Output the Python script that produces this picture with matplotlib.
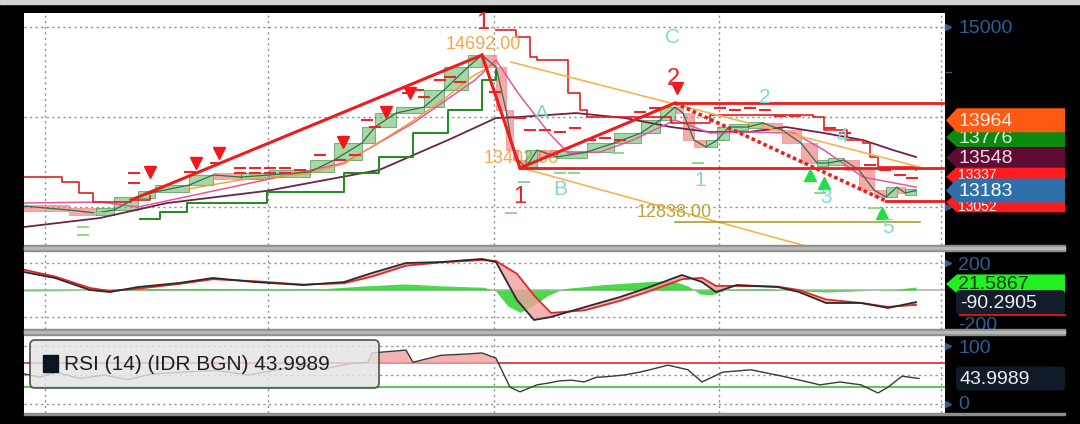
import matplotlib
matplotlib.use("Agg")
import matplotlib.pyplot as plt
from matplotlib import font_manager
from matplotlib.patches import Polygon, Rectangle, FancyBboxPatch
import numpy as np

# ---- price panel data (x = bar index, value = IDR) ----
PRICE_D = [0, 11.25, 18, 22.5, 28.5, 32.75, 41.25, 47.25, 54.25, 61.25,
           71.5, 77.5, 84.5, 87.75, 93, 100, 105, 111, 114.5, 118,
           120.5, 122.25, 123.5, 125.5, 128.25, 133.25, 140.75, 147.5, 154.25, 159,
           162.75, 164.75, 167.5, 170.5, 173.25, 176.25, 181, 184.75, 189.5, 194.25,
           198.25, 201, 205, 208.75, 212.5, 215.5, 218.25, 220.25, 223]
PRICE_V = [13010, 12967, 12933, 12967, 13111, 13167, 13244, 13356, 13333, 13356,
           13389, 13522, 13711, 13889, 14044, 14111, 14300, 14556, 14689, 14556,
           14078, 13633, 13522, 13440, 13633, 13556, 13611, 13711, 13822, 13967,
           14111, 14044, 13744, 13667, 13744, 13889, 13889, 13933, 13856, 13711,
           13489, 13489, 13522, 13411, 13189, 13111, 13222, 13156, 13183]

MAROON_D = [0, 19, 35.75, 60.75, 88.75, 106, 118, 123.5, 138, 150.25,
            161.75, 171.5, 181, 190.5, 200, 209.75, 217.25, 223]
MAROON_V = [12778, 12878, 13044, 13180, 13411, 13744, 13989, 14000, 14044, 13989,
            13889, 13833, 13833, 13889, 13822, 13744, 13633, 13556]

PINK_D = [0, 19, 28.5, 54.25, 80, 97.25, 112.75, 118, 123.5, 131.25,
          136, 144, 152.25, 162.75, 171.5, 181, 192.5, 200, 209.75, 223]
PINK_V = [13044, 13056, 13000, 13244, 13489, 13933, 14411, 14633, 14267, 13822,
          13600, 13611, 13744, 13967, 13822, 13833, 13822, 13633, 13333, 13222]

ORANGE_D = [41, 54, 71, 80, 88, 97, 105, 112, 118]
ORANGE_V = [13200, 13300, 13370, 13480, 13700, 13950, 14200, 14450, 14600]

GREEN_D = [29, 34, 40.75, 60.75, 80, 88.75, 97.25, 106, 114.5, 118]
GREEN_V = [12867, 12944, 13044, 13167, 13378, 13556, 13822, 14078, 14411, 14522]

BAND_A_D = [0, 9.5, 13.75, 17.25, 26.75, 31.5]
BAND_A_V = [13333, 13278, 13156, 13056, 13078, 13122]
BAND_B_D = [118, 123, 126.5, 128.25, 136, 139, 140.75, 161.75, 171.5, 197.25,
            200, 205.75, 209.75, 211.5, 213.5, 223]
BAND_B_V = [14967, 14889, 14667, 14633, 14267, 14078, 14000, 13933, 14022, 14000,
            13856, 13744, 13711, 13556, 13444, 13411]

RED_DASH_D = [27.5, 27.5, 41.5, 48, 54, 54, 57.75, 57.75, 61.5, 61.5,
              65.25, 65.25, 69, 74, 79, 82.75, 85.75, 87.75, 96, 98.5,
              100, 104, 106.5, 109, 117.75, 124, 126.5, 130.25, 134, 137.75,
              141.5, 145.25, 149, 154, 157.75, 174, 177.75, 181.5, 185.25, 189,
              192.75, 201.5, 205.25, 211.5, 215.25, 219, 222]
RED_DASH_V = [13378, 13267, 13389, 13489, 13433, 13378, 13433, 13378, 13433, 13378,
              13433, 13378, 13411, 13578, 13522, 13578, 13967, 13889, 14267, 14300,
              14222, 14411, 14444, 14389, 14278, 13989, 13856, 13856, 13833, 13878,
              13744, 13767, 13744, 14056, 14100, 14100, 14078, 14100, 14078, 14011,
              14011, 13878, 13822, 13467, 13411, 13356, 13322]
GREEN_DASH_D = [14.75, 14.75, 19, 121.75, 125, 134, 137.5, 148.5, 168.5, 199, 212.5]
GREEN_DASH_V = [12778, 12689, 12933, 12933, 13278, 13378, 13378, 13600, 13489, 13156, 12989]

SELL_D = [31.5, 43, 48.75, 79.75, 90.5, 96.5, 163.25]
SELL_V = [13389, 13489, 13600, 13722, 14056, 14267, 14322]
BUY_D = [196.5, 200, 214.5]
BUY_V = [13356, 13267, 12933]

# wave / trend lines: (d0, v0, d1, v1)
TREND_SOLID = [(26.75, 13078, 114.5, 14689), (114.5, 14689, 124, 13433), (124, 13433, 162.75, 14156)]
TREND_DOTTED = (162.75, 14156, 215.5, 13067)
LEVELS = [(162.75, 14156), (124, 13433), (215.5, 13067)]
FAN_UPPER = (121.75, 14611, 224, 13444)
FAN_LOWER = (124.5, 13433, 196.25, 12556)
TARGET = (162.75, 224, 12838)

WAVE_LABELS = [("1", 114.75, 15040, "#e3262a"), ("1", 124, 13110, "#e3262a"), ("2", 162.25, 14420, "#e3262a")]
ELLIOTT_LABELS = [("C", 162, 14880), ("A", 129.5, 14040), ("B", 134, 13190), ("1", 169, 13300),
                  ("2", 185.25, 14220), ("3", 200.5, 13110), ("4", 204.5, 13780), ("5", 216, 12770)]
PRICE_NOTES = [("14692.00", 114.75, 14811), ("13402.00", 115, 13544), ("12838.00", 162.5, 12944)]

MAIN_LAST = [13052, 13337, 13548, 13776, 13964, 13183]
MAIN_LAST_BG = ["#ff1c1c", "#ff1c1c", "#5e0c36", "#0b8a12", "#ff5a14", "#3070aa"]
MAIN_LAST_FG = ["#ffffff", "#ffffff", "#f0d8e4", "#d8f5d8", "#fff0e6", "#ffffff"]

# ---- MACD panel ----
MACD_D = [0, 7.75, 16.5, 21.5, 28.5, 38.75, 47.25, 57.75, 69.75, 80,
          87, 95.5, 104.25, 114.5, 118, 123.25, 127.5, 131.75, 140.25, 149,
          155.75, 164.5, 169.5, 173, 178.25, 188.5, 193.75, 200.5, 209.25, 216, 223]
MACD_V = [133, 89, 0, -15, 22, 52, 89, 59, 37, 59,
          126, 200, 207, 230, 207, -74, -222, -200, -126, -52,
          15, 111, 59, -15, 37, 22, -15, -96, -96, -133, -90]
SIGNAL_V = [150, 100, 15, -8, 10, 45, 80, 65, 40, 50,
            100, 180, 205, 222, 215, 120, -40, -170, -150, -80,
            -15, 80, 90, 30, 30, 25, 0, -70, -96, -125, -110]
HIST_D = [0, 10, 20, 30, 45, 60, 75, 85, 95, 105, 115, 118, 121, 124, 127, 131,
          135, 145, 155, 162, 166, 169, 172, 176, 185, 192, 200, 206, 212, 218, 223]
HIST_V = [-8, -5, 5, 10, 12, 8, 10, 30, 45, 30, 20, -10, -120, -165, -120, -40,
          10, 40, 60, 70, 30, -30, -35, 5, 10, -5, -15, -10, 0, 5, 22]

# ---- RSI panel ----
RSI_D = [0, 4, 8, 14, 20, 26, 32, 40, 48, 56, 64, 70, 76, 82, 86,
         87, 95.5, 97.25, 104.25, 110, 114.5, 118, 121.5, 124, 128.25, 131, 134,
         137, 140, 143, 145.5, 150, 154, 157, 161, 166, 169.5, 174.75, 181.75,
         190.25, 199, 204, 209.25, 213.5, 216, 219.5, 223.75]
RSI_V = [52, 46, 55, 44, 50, 42, 52, 55, 58, 50, 60, 66, 62, 70, 72,
         88, 93, 72, 84, 86, 88, 79, 29, 21, 33, 36, 40,
         41, 38, 46, 47, 50, 55, 60, 67, 59, 38, 55, 59,
         47, 33, 38, 33, 19, 29, 48, 44]

VGRID = [5.25, 61, 117.5, 173.75, 229.25]

W, H = 1080, 424
names = {f.name for f in font_manager.fontManager.ttflist}
FONT = "Liberation Sans Narrow" if "Liberation Sans Narrow" in names else "Liberation Sans"
plt.rcParams["font.family"] = [FONT, "DejaVu Sans"]

fig = plt.figure(figsize=(W / 100, H / 100), dpi=100, facecolor="black")


def px_axes(x0, y0, x1, y1, z=1):
    a = fig.add_axes([x0 / W, 1 - y1 / H, (x1 - x0) / W, (y1 - y0) / H], zorder=z)
    a.set_facecolor("white")
    a.set_xlim(0, 230.25)
    a.set_xticks([])
    a.set_yticks([])
    for s in a.spines.values():
        s.set_visible(False)
    for g in VGRID:
        a.axvline(g, color="#8c8c8c", lw=1, ls=(0, (1.5, 2.5)), zorder=0)
    return a


GRID = dict(color="#8c8c8c", lw=1, ls=(0, (1.5, 2.5)), zorder=0)

# ---------------- main price panel ----------------
ax = px_axes(24, 13, 945, 245)
ax.set_ylim(12578, 15156)
for v in (13000, 14000, 15000):
    ax.axhline(v, **GRID)

# candle bodies built from consecutive closes
for i in range(len(PRICE_D) - 1):
    v0, v1 = PRICE_V[i], PRICE_V[i + 1]
    up = v1 >= v0
    lo, hgt = min(v0, v1), abs(v1 - v0)
    if hgt < 70:
        lo, hgt = lo - (70 - hgt) / 2, 70
    ax.add_patch(Rectangle((PRICE_D[i], lo), PRICE_D[i + 1] - PRICE_D[i], hgt,
                           facecolor="#5fb65f" if up else "#f27070",
                           edgecolor="#2f7f3a" if up else "#f08080",
                           alpha=0.55 if up else 0.6, lw=0.8, zorder=2))

ax.plot(MAROON_D, MAROON_V, color="#6b2348", lw=1.3, zorder=3)
ax.plot(PINK_D, PINK_V, color="#e8559a", lw=1.1, zorder=3)
ax.plot(ORANGE_D, ORANGE_V, color="#f0a030", lw=1.0, zorder=3)
ax.plot(GREEN_D, GREEN_V, color="#1f8a1f", lw=1.4, drawstyle="steps-post", zorder=3)
ax.plot(BAND_A_D, BAND_A_V, color="#e02020", lw=1.2, drawstyle="steps-post", zorder=3)
ax.plot(BAND_B_D, BAND_B_V, color="#e02020", lw=1.2, drawstyle="steps-post", zorder=3)
ax.plot(PRICE_D, PRICE_V, color="#2f6f4a", lw=0.9, zorder=4)

ax.hlines(RED_DASH_V, np.array(RED_DASH_D) - 1.6, np.array(RED_DASH_D) + 1.6,
          color="#e8282a", lw=1.5, zorder=4)
ax.hlines(GREEN_DASH_V, np.array(GREEN_DASH_D) - 1.6, np.array(GREEN_DASH_D) + 1.6,
          color="#8fd68f", lw=1.4, zorder=4)

for d0, v0, d1, v1 in TREND_SOLID:
    ax.plot([d0, d1], [v0, v1], color="#ee1c1c", lw=2.2, zorder=5)
d0, v0, d1, v1 = TREND_DOTTED
ax.plot([d0, d1], [v0, v1], color="#ee1c1c", lw=2.6, ls=(0, (1, 0.8)), zorder=5)
for d, v in LEVELS:
    ax.plot([d, 230.25], [v, v], color="#ee1c1c", lw=2.0, zorder=5)
for d0, v0, d1, v1 in (FAN_UPPER, FAN_LOWER):
    ax.plot([d0, d1], [v0, v1], color="#f5b450", lw=1.2, zorder=3)
ax.plot([TARGET[0], TARGET[1]], [TARGET[2], TARGET[2]], color="#a8961e", lw=1.1, zorder=3)

ax.plot(SELL_D, SELL_V, ls="none", marker="v", color="#f01818", ms=8, zorder=6)
ax.plot(BUY_D, BUY_V, ls="none", marker="^", color="#22dd44", ms=8, zorder=6)

for t, d, v, c in WAVE_LABELS:
    ax.text(d, v, t, color=c, fontsize=17, ha="center", va="center", zorder=7)
for t, d, v in ELLIOTT_LABELS:
    ax.text(d, v, t, color="#86d6d0", fontsize=15, ha="center", va="center", zorder=7)
ax.text(PRICE_NOTES[0][1], PRICE_NOTES[0][2], PRICE_NOTES[0][0], color="#f5a84a",
        fontsize=13, ha="center", va="center", zorder=7)
ax.text(PRICE_NOTES[1][1], PRICE_NOTES[1][2], PRICE_NOTES[1][0], color="#f5a84a",
        fontsize=13, ha="left", va="center", zorder=1.5)
ax.text(PRICE_NOTES[2][1], PRICE_NOTES[2][2], PRICE_NOTES[2][0], color="#b8a43c",
        fontsize=13, ha="center", va="center", zorder=7)

# ---------------- MACD panel ----------------
am = px_axes(24, 251, 945, 329)
am.set_ylim(-289, 289)
for v in (200, -200):
    am.axhline(v, **GRID)
am.axhline(0, color="#b4b4b4", lw=1.2, zorder=1)
am.fill_between(HIST_D, 0, HIST_V, color="#2ed02e", alpha=0.85, lw=0, zorder=2)
am.fill_between(MACD_D, MACD_V, SIGNAL_V, color="#f2a0a0", alpha=0.8, lw=0, zorder=2)
am.plot(MACD_D, SIGNAL_V, color="#e02828", lw=1.3, zorder=3)
am.plot(MACD_D, MACD_V, color="#2a2a2a", lw=1.3, zorder=4)

# ---------------- RSI panel ----------------
ar = px_axes(24, 335, 945, 413)
ar.set_ylim(-15.5, 119)
for v in (100, 50, 0):
    ar.axhline(v, **GRID)
ar.axhline(70, color="#e23a3a", lw=1.3, zorder=1)
ar.axhline(30, color="#45c645", lw=1.3, zorder=1)
rsi = np.array(RSI_V, dtype=float)
ar.fill_between(RSI_D, 70, rsi, where=rsi > 70, interpolate=True,
                color="#f2a0a0", alpha=0.8, lw=0, zorder=2)
ar.plot(RSI_D, RSI_V, color="#3a3a3a", lw=1.0, zorder=3)

# ---------------- overlay: frame, separators, right-hand labels ----------------
ov = fig.add_axes([0, 0, 1, 1], zorder=10)
ov.set_xlim(0, W)
ov.set_ylim(H, 0)
ov.axis("off")
ov.patch.set_alpha(0)

BLUE = "#2d5f94"


def vy(a, v):
    return H - a.transData.transform((0, v))[1]


def pointer(y):
    ov.plot(948, y, marker=">", color=BLUE, ms=4)


def tag(y, txt, bg, fg, h=20, size=14, dy=1):
    pts = [(946, y), (957, y - h / 2), (1065, y - h / 2), (1065, y + h / 2), (957, y + h / 2)]
    ov.add_patch(Polygon(pts, closed=True, facecolor=bg, edgecolor="none", zorder=2))
    ov.text(958, y + dy, txt, color=fg, fontsize=size, ha="left", va="center", zorder=2)


# main panel axis
y15 = vy(ax, 15000)
pointer(y15)
ov.text(958, y15 + 1, "15000", color=BLUE, fontsize=14, ha="left", va="center")
ov.plot([946, 951], [vy(ax, 14500)] * 2, color=BLUE, lw=1)
pointer(vy(ax, 13000))
for v, bg, fg in zip(MAIN_LAST, MAIN_LAST_BG, MAIN_LAST_FG):
    if v in (13964, 13183):
        tag(vy(ax, v), f"{v}", bg, fg, h=24)
    elif v == 13337:
        # mostly hidden behind the 13183 tag
        tag(vy(ax, v), f"{v}", bg, fg, h=20, size=10, dy=-2)
    elif v == 13052:
        tag(vy(ax, v), f"{v}", bg, fg, h=20, size=10, dy=5)
    else:
        tag(vy(ax, v), f"{v}", bg, fg, h=20)

# MACD axis
y200 = vy(am, 200)
pointer(y200)
ov.text(958, y200 + 2, "200", color=BLUE, fontsize=14, ha="left", va="center")
ov.text(958, vy(am, -200) + 9, "-200", color=BLUE, fontsize=14, ha="left", va="center", zorder=1)
tag(vy(am, 45), "21.5867", "#22f022", "#0c3a0c", h=19)
ym = vy(am, -90)
ov.add_patch(FancyBboxPatch((956, ym - 12), 109, 24, boxstyle="round,pad=0,rounding_size=4",
                            facecolor="#141d2b", edgecolor="none", zorder=3))
ov.text(960, ym + 1, "-90.2905", color="#eeeeee", fontsize=14, ha="left", va="center", zorder=3)
ov.plot([960, 1065], [ym + 13, ym + 13], color="#d41414", lw=1.5, zorder=3)

# RSI axis
y100 = vy(ar, 100)
pointer(y100)
ov.text(958, y100 + 2, "100", color=BLUE, fontsize=14, ha="left", va="center")
y0r = vy(ar, 0)
pointer(y0r)
ov.text(958, y0r, "0", color=BLUE, fontsize=14, ha="left", va="center")
yr = vy(ar, 44)
ov.add_patch(FancyBboxPatch((956, yr - 12), 109, 24, boxstyle="round,pad=0,rounding_size=4",
                            facecolor="#111a27", edgecolor="none"))
ov.text(960, yr + 1, "43.9989", color="#eeeeee", fontsize=14, ha="left", va="center")

# frame pieces drawn over the axis labels
ov.add_patch(Rectangle((0, 0), W, 4, color="#d4d4d4", zorder=5))
for y0 in (245, 329):
    ov.add_patch(Rectangle((24, y0), 1041, 6, color="#8e8e8e", zorder=5))
    ov.add_patch(Rectangle((24, y0 + 2), 1041, 2, color="#b8b8b8", zorder=5))
ov.add_patch(Rectangle((24, 413), 1041, 2, color="#8e8e8e", zorder=5))

# RSI legend box
ov.add_patch(FancyBboxPatch((30, 340), 349, 48, boxstyle="round,pad=0,rounding_size=5",
                            facecolor="#e4e4e4", edgecolor="#3a3a3a", lw=1.3, alpha=0.82))
ov.add_patch(Rectangle((43, 355), 15, 17, color="#0c1424"))
ov.text(64, 364, "RSI (14) (IDR BGN) 43.9989", color="#1e1e1e", fontsize=15,
        ha="left", va="center")

fig.savefig("out.png", dpi=100, facecolor="black")
